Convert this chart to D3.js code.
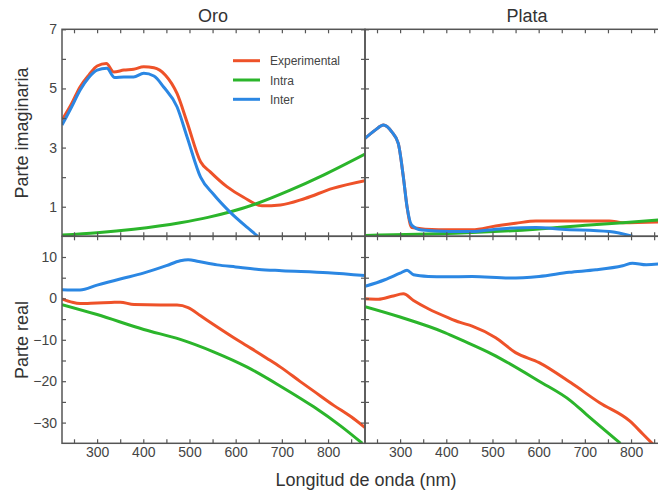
<!DOCTYPE html>
<html>
<head>
<meta charset="utf-8">
<script src="https://d3js.org/d3.v7.min.js"></script>
<style>
  body { margin: 0; background: white; }
  svg { font-family: "Liberation Sans", Arial, sans-serif; }
  .tick text { fill: #444; font-size: 14px; }
  .tick line { stroke: #555; stroke-width: 1.2px; }
</style>
</head>
<body>
<svg id="chart" width="658" height="496"></svg>
<script>
// [wavelength nm, value]
let oroImagExp = [[224,3.93],[245,4.49],[263,5.05],[282,5.45],[300,5.76],[320,5.84],[336,5.56],[358,5.62],[379,5.65],[401,5.73],[423,5.70],[448,5.45],[473,4.83],[495,3.85],[524,2.52],[545,2.18],[581,1.68],[617,1.32],[657,1.03],[697,1.06],[750,1.28],[810,1.62],[880,1.88]]
let oroImagIntra = [[224,0.04],[300,0.12],[379,0.24],[480,0.46],[540,0.64],[589,0.83],[646,1.11],[718,1.56],[790,2.07],[880,2.78]]
let oroImagInter = [[224,3.76],[245,4.38],[263,4.94],[282,5.37],[300,5.62],[321,5.68],[338,5.37],[358,5.39],[379,5.39],[401,5.51],[423,5.42],[444,5.05],[473,4.38],[495,3.35],[524,2.0],[552,1.42],[589,0.8],[625,0.3],[648,0]]

let oroRealExp = [[224,-0.1],[245,-0.9],[263,-1.25],[300,-1.1],[330,-1.0],[350,-0.9],[380,-1.5],[437,-1.6],[473,-1.6],[497,-2.2],[524,-4.2],[552,-6.3],[596,-9.5],[625,-11.5],[668,-14.5],[697,-16.6],[740,-20.1],[769,-22.4],[813,-25.9],[850,-28.6],[880,-31.2]]
let oroRealIntra = [[224,-1.5],[300,-3.9],[401,-7.5],[480,-9.9],[552,-12.9],[625,-16.6],[697,-21.2],[769,-26.2],[827,-30.8],[874,-35]]
let oroRealInter = [[224,2.1],[263,2.0],[300,3.2],[350,4.7],[400,6.1],[450,7.9],[480,9.1],[497,9.35],[520,8.9],[560,8.1],[600,7.6],[650,7.0],[700,6.7],[800,6.2],[880,5.5]]

let plataImagExp = [[224,3.31],[246,3.59],[264,3.76],[282,3.53],[296,3.14],[307,2.01],[315,1.0],[325,0.30],[383,0.22],[456,0.22],[507,0.35],[550,0.44],[594,0.52],[651,0.52],[753,0.52],[782,0.46],[880,0.5]]
let plataImagIntra = [[224,0.03],[420,0.1],[594,0.24],[710,0.38],[782,0.46],[880,0.58]]
let plataImagInter = [[224,3.31],[246,3.59],[264,3.76],[282,3.53],[296,3.14],[307,2.01],[315,1.0],[325,0.38],[347,0.21],[405,0.16],[456,0.16],[507,0.24],[594,0.30],[651,0.24],[753,0.16],[803,0]]

let plataRealExp = [[224,-0.1],[253,-0.2],[282,0.5],[307,1.1],[329,-0.5],[361,-2.5],[405,-4.7],[430,-5.8],[456,-6.7],[507,-9.5],[550,-13.1],[601,-15.5],[670,-20.4],[732,-25.2],[797,-29.6],[826,-32.8],[850,-35.5]]
let plataRealIntra = [[224,-2.0],[300,-4.5],[398,-8.3],[430,-9.9],[500,-13.5],[601,-20],[670,-24.8],[703,-28.0],[777,-35]]
let plataRealInter = [[224,2.9],[267,4.5],[300,6.1],[315,6.8],[329,5.7],[361,5.3],[398,5.2],[456,5.3],[536,4.9],[601,5.3],[666,6.3],[724,6.9],[782,7.9],[803,8.5],[833,8.1],[880,8.6]]

let seriesNames = ["Experimental", "Intra", "Inter"]
let seriesColors = ["#ee5229", "#2bb52b", "#2b87e3"]
let panelTitles = ["Oro", "Plata"]
let xTicks = [300, 400, 500, 600, 700, 800]
let imagTicks = [1, 3, 5, 7]
let realTicks = [-30, -20, -10, 0, 10]

let svg = d3.select("#chart")
let frameColor = "#555"

let xLeft = d3.scaleLinear().domain([224, 880]).range([62, 365])
let xRight = d3.scaleLinear().domain([224, 880]).range([365, 668])
let yImag = d3.scaleLinear().domain([0, 7]).range([236.3, 29.3])
let yReal = d3.scaleLinear().domain([-35, 15]).range([443.3, 236.3])

let minorX = d3.range(250, 900, 50)

function fmt(d) { return d < 0 ? "\u2212" + Math.abs(d) : "" + d }

function panel(x, y, data, id, leftLabels, bottomLabels, yMinor, yMajor) {
    let [x0, x1] = x.range()
    let [y0, y1] = y.range()
    svg.append("clipPath").attr("id", id)
        .append("rect").attr("x", x0).attr("y", y1).attr("width", x1 - x0).attr("height", y0 - y1)

    let g = svg.append("g").attr("clip-path", "url(#" + id + ")")
    let line = d3.line().x(d => x(d[0])).y(d => y(d[1])).curve(d3.curveMonotoneX)
    data.forEach((s, i) => {
        g.append("path").datum(s)
            .attr("d", line)
            .attr("fill", "none")
            .attr("stroke", seriesColors[i])
            .attr("stroke-width", 3)
            .attr("stroke-linejoin", "round")
    })

    // ticks on all four sides, pointing inward
    let bottom = svg.append("g").attr("transform", "translate(0," + y0 + ")")
        .call(d3.axisBottom(x).tickValues(minorX).tickSize(-4).tickPadding(4)
            .tickFormat(d => bottomLabels && xTicks.includes(d) ? d : ""))
    let top = svg.append("g").attr("transform", "translate(0," + y1 + ")")
        .call(d3.axisTop(x).tickValues(minorX).tickSize(-4).tickFormat(""))
    let left = svg.append("g").attr("transform", "translate(" + x0 + ",0)")
        .call(d3.axisLeft(y).tickValues(yMinor).tickSize(-4).tickPadding(5)
            .tickFormat(d => leftLabels && yMajor.includes(d) ? fmt(d) : ""))
    let right = svg.append("g").attr("transform", "translate(" + x1 + ",0)")
        .call(d3.axisRight(y).tickValues(yMinor).tickSize(-4).tickFormat(""))
    ;[bottom, top, left, right].forEach(a => a.select(".domain").remove())

    svg.append("rect")
        .attr("x", x0).attr("y", y1).attr("width", x1 - x0).attr("height", y0 - y1)
        .attr("fill", "none").attr("stroke", frameColor).attr("stroke-width", 1.5)
}

let imagMinor = d3.range(1, 8)
let realMinor = d3.range(-30, 15, 5)

panel(xLeft, yImag, [oroImagExp, oroImagIntra, oroImagInter], "c1", true, false, imagMinor, imagTicks)
panel(xRight, yImag, [plataImagExp, plataImagIntra, plataImagInter], "c2", false, false, imagMinor, imagTicks)
panel(xLeft, yReal, [oroRealExp, oroRealIntra, oroRealInter], "c3", true, true, realMinor, realTicks)
panel(xRight, yReal, [plataRealExp, plataRealIntra, plataRealInter], "c4", false, true, realMinor, realTicks)

// titles
svg.append("text").attr("x", 213).attr("y", 22).attr("text-anchor", "middle")
    .attr("font-size", 18).attr("fill", "#333").text(panelTitles[0])
svg.append("text").attr("x", 527).attr("y", 22).attr("text-anchor", "middle")
    .attr("font-size", 18).attr("fill", "#333").text(panelTitles[1])

// axis labels
svg.append("text").attr("transform", "translate(28,133) rotate(-90)").attr("text-anchor", "middle")
    .attr("font-size", 18).attr("fill", "#333").text("Parte imaginaria")
svg.append("text").attr("transform", "translate(28,340) rotate(-90)").attr("text-anchor", "middle")
    .attr("font-size", 18).attr("fill", "#333").text("Parte real")
svg.append("text").attr("x", 366).attr("y", 486).attr("text-anchor", "middle")
    .attr("font-size", 18).attr("fill", "#333").text("Longitud de onda (nm)")

// legend
let legend = svg.append("g")
seriesNames.forEach((n, i) => {
    let ly = 60.7 + i * 19.3
    legend.append("line").attr("x1", 233).attr("x2", 260).attr("y1", ly).attr("y2", ly)
        .attr("stroke", seriesColors[i]).attr("stroke-width", 3)
    legend.append("text").attr("x", 270).attr("y", ly + 4.5)
        .attr("font-size", 12).attr("fill", "#444").text(n)
})
</script>
</body>
</html>
